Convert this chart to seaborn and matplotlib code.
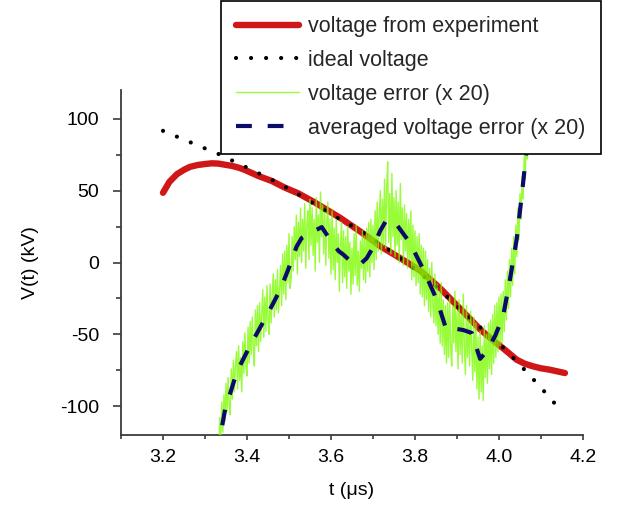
import numpy as np
import pandas as pd
import matplotlib
matplotlib.use("Agg")
import matplotlib.pyplot as plt
import seaborn as sns

# ---------------- data ----------------
# voltage from experiment
t_exp = [3.200, 3.215, 3.233, 3.250, 3.264, 3.282, 3.300, 3.316, 3.332, 3.348,
         3.364, 3.380, 3.395, 3.427, 3.459, 3.490, 3.522, 3.560, 3.621, 3.670,
         3.717, 3.765, 3.812, 3.860, 3.907, 3.955, 3.985, 4.014, 4.042, 4.062,
         4.082, 4.100, 4.121, 4.140, 4.157]
v_exp = [48.5, 56.0, 61.4, 64.5, 66.5, 67.8, 68.5, 69.0, 68.8, 68.0,
         67.2, 66.0, 64.4, 60.2, 56.7, 52.1, 48.1, 42.0, 31.2, 21.5,
         11.4, 3.0, -5.5, -18.0, -32.0, -46.5, -54.0, -60.7, -67.6, -70.5,
         -72.3, -73.6, -74.6, -75.8, -76.9]

# ideal voltage
t_ideal = [3.200, 3.266, 3.332, 3.395, 3.457, 3.520, 3.610, 3.665, 3.750,
           3.850, 3.939, 4.014, 4.066, 4.115, 4.139]
v_ideal = [91.6, 83.5, 75.5, 66.7, 57.9, 47.9, 31.9, 23.0, 6.5,
           -16.5, -40.9, -60.2, -76.2, -92.0, -100.2]

# voltage error (x 20), sampled every 2.5 ns from 3.330 to 4.080 us
err_start, err_end = 3.330, 4.080
v_err = [
    -128, -140, -108, -125, -97, -118, -92, -110, -84, -104,
    -80, -99, -106, -74, -95, -68, -90, -71, -62, -88,
    -58, -82, -66, -90, -55, -77, -49, -72, -79, -45,
    -70, -41, -64, -38, -60, -72, -33, -58, -30, -62,
    -28, -55, -36, -19, -52, -24, -48, -16, -41, -50,
    -15, -42, -22, -8, -38, -12, -33, -5, -35, -18,
    -2, -30, 6, -22, 8, -26, 12, -14, 20, -18,
    -12, 18, -6, 25, 2, 33, -8, 28, 4, 38,
    0, 30, 8, 41, -4, 27, 36, 2, 44, 12,
    38, 5, 30, -6, 45, 14, 33, 0, 49, 18,
    40, 6, 35, -2, 28, 42, 3, 30, -8, 36,
    -5, 24, -12, 30, 0, 20, -20, 12, 28, -14,
    22, -10, 18, -18, 25, -6, 14, -22, 10, -15,
    20, -9, 26, -16, 8, -20, 15, -4, 22, -12,
    18, -14, 24, -6, 28, -10, 30, 0, 26, -5,
    36, 2, 42, 8, 34, 50, 6, 44, 12, 58,
    10, 52, 70, 14, 48, 6, 62, 18, 45, 4,
    50, 12, 42, 0, 55, 16, 38, -2, 40, 8,
    34, -4, 30, 2, 36, -12, 26, -10, 22, -16,
    18, -14, 20, -22, 12, -24, 10, -30, 8, -26,
    2, -34, -4, -38, 0, -30, -42, -8, -44, -15,
    -50, -20, -56, -14, -58, -26, -64, -30, -70, -28,
    -66, -24, -60, -72, -30, -56, -20, -62, -34, -74,
    -26, -64, -36, -70, -22, -58, -78, -30, -66, -40,
    -72, -34, -60, -82, -38, -76, -42, -88, -52, -95,
    -48, -90, -58, -96, -44, -80, -50, -84, -42, -74,
    -40, -78, -36, -70, -30, -66, -28, -62, -24, -58,
    -22, -56, -20, -48, -12, -40, -6, -32, 2, -24,
    10, -16, 18, -8, 26, 4, 38, 16, 48, 30,
    60, 44, 74, 58, 88, 72, 104, 90, 120, 108,
    126]
t_err = np.linspace(err_start, err_end, len(v_err))

# averaged voltage error (x 20)
t_avg = [3.330, 3.337, 3.348, 3.360, 3.376, 3.407, 3.447, 3.479, 3.498, 3.518,
         3.530, 3.560, 3.578, 3.600, 3.618, 3.629, 3.650, 3.669, 3.685, 3.701,
         3.717, 3.733, 3.756, 3.788, 3.820, 3.852, 3.875, 3.895, 3.915, 3.935,
         3.955, 3.970, 3.991, 4.010, 4.026, 4.042, 4.054, 4.066, 4.085]
v_avg = [-135, -120, -102, -91, -76, -58, -37, -19, -5, 11,
         17, 22, 24.6, 15, 8, 5.6, 0, -1.4, 3, 11,
         22, 30, 26.5, 13.7, -5, -26, -47, -46, -47, -49,
         -67, -62, -51, -37, -12, 16, 46, 79, 135]

x_ticks = [3.2, 3.4, 3.6, 3.8, 4.0, 4.2]
x_minor = [3.1, 3.3, 3.5, 3.7, 3.9, 4.1]
y_ticks = [-100, -50, 0, 50, 100]
y_minor = [-75, -25, 25, 75]

labels = ["voltage from experiment", "ideal voltage",
          "voltage error (x 20)", "averaged voltage error (x 20)"]

# ---------------- style ----------------
sns.set_theme(style="ticks")
plt.rcParams['font.family'] = ['Liberation Sans', 'DejaVu Sans']

fig = plt.figure(figsize=(6.22, 5.13), dpi=100)
ax = fig.add_axes([121 / 622, 78 / 513, 462 / 622, 345 / 513])

red = "#cf1717"
green = "#7cfc00"
navy = "#0b0b6b"

sns.lineplot(x=t_exp, y=v_exp, ax=ax, color=red, linewidth=4.6,
             estimator=None, sort=False, label=labels[0], zorder=2)
sns.lineplot(x=t_ideal, y=v_ideal, ax=ax, color="black", linewidth=3.0,
             linestyle=(0, (0.01, 3.6)), dash_capstyle="round",
             estimator=None, sort=False, label=labels[1], zorder=3)
sns.lineplot(x=t_err, y=v_err, ax=ax, color=green, linewidth=1.0, alpha=0.78,
             estimator=None, sort=False, label=labels[2], zorder=4)
sns.lineplot(x=t_avg, y=v_avg, ax=ax, color=navy, linewidth=3.0,
             linestyle=(0, (3.8, 3.8)), dash_capstyle="butt",
             estimator=None, sort=False, label=labels[3], zorder=5)

ax.set_xlim(3.1, 4.2)
ax.set_ylim(-120, 120)
ax.set_xticks(x_ticks)
ax.set_xticks(x_minor, minor=True)
ax.set_yticks(y_ticks)
ax.set_yticks(y_minor, minor=True)
ax.set_xticklabels([f"{v:.1f}" for v in x_ticks])
ax.set_yticklabels([f"{v:d}" for v in y_ticks])

spine_col = "#3c3c3c"
for s in ["top", "right"]:
    ax.spines[s].set_visible(False)
for s in ["left", "bottom"]:
    ax.spines[s].set_color(spine_col)
    ax.spines[s].set_linewidth(1.3)

ax.tick_params(axis="y", which="major", length=5.8, width=1.2, pad=10,
               labelsize=14, color=spine_col, labelcolor="black", direction="out")
ax.tick_params(axis="y", which="minor", length=3.6, width=1.2,
               color=spine_col, direction="out")
ax.tick_params(axis="x", which="major", length=3.8, width=1.2, pad=6,
               labelsize=14, color=spine_col, labelcolor="black", direction="out")
ax.tick_params(axis="x", which="minor", length=3.0, width=1.2,
               color=spine_col, direction="out")

ax.set_xlabel("t (μs)", fontsize=14, labelpad=12, color="black")
ax.set_ylabel("V(t) (kV)", fontsize=14, labelpad=15, color="black")

handles, lbls = ax.get_legend_handles_labels()
leg = ax.legend(handles, lbls, loc="upper left",
                bbox_to_anchor=(221 / 622, 1 - 1 / 513),
                bbox_transform=fig.transFigure,
                frameon=True, fancybox=False, framealpha=1, edgecolor="black",
                borderaxespad=0, fontsize=15.5, handlelength=2.9,
                handletextpad=0.45, labelspacing=0.6, borderpad=0.7)
leg.get_frame().set_linewidth(1.2)
leg.set_zorder(10)

fig.savefig("out.png", dpi=100)
